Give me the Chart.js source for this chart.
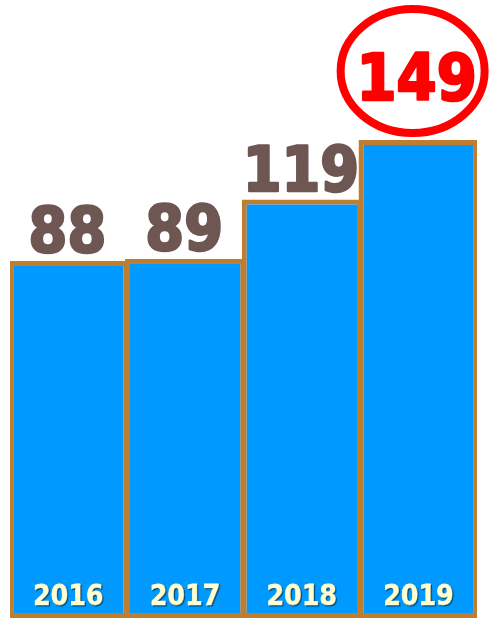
<!DOCTYPE html>
<html>
<head>
<meta charset="utf-8">
<script src="https://cdn.jsdelivr.net/npm/chart.js@4/dist/chart.umd.min.js"></script>
<style>
  html, body { margin: 0; padding: 0; background: #fff; }
  canvas { display: block; }
</style>
</head>
<body>
<canvas id="bars" width="492" height="619"></canvas>
<script>
var years = ['2016', '2017', '2018', '2019'];
var values = [88, 89, 119, 149];
var highlightIndex = 3;
var yMin = -92;
var yMax = 219.6;

var valueFont = 'bold 62px "DejaVu Sans Condensed", "DejaVu Sans", sans-serif';
var bigFont = 'bold 64px "DejaVu Sans Condensed", "DejaVu Sans", sans-serif';
var yearFont = 'bold 28px "DejaVu Sans Condensed", "DejaVu Sans", sans-serif';

// heavier text: fill plus a thin stroke in the same colour
function heavyText(ctx, txt, x, y, color, weight) {
    ctx.fillStyle = color;
    ctx.strokeStyle = color;
    ctx.lineWidth = weight;
    ctx.lineJoin = 'round';
    ctx.strokeText(txt, x, y);
    ctx.fillText(txt, x, y);
}

// draws the numbers above the bars, the years inside, and the red ring on the highlight
var labelPlugin = {
    id: 'labels',
    afterDatasetsDraw: function(chart) {
        var ctx = chart.ctx;
        var meta = chart.getDatasetMeta(0);
        ctx.save();
        try { ctx.fontStretch = 'condensed'; } catch (e) {}
        ctx.textAlign = 'center';
        ctx.textBaseline = 'alphabetic';

        meta.data.forEach(function(bar, i) {
            var x = bar.x;
            if (i === highlightIndex) {
                ctx.font = bigFont;
                heavyText(ctx, String(values[i]), x - 2, bar.y - 40, '#ff0000', 2.5);
                ctx.beginPath();
                ctx.ellipse(x - 6, bar.y - 69, 72, 62, 0, 0, Math.PI * 2);
                ctx.lineWidth = 8;
                ctx.strokeStyle = '#ff0000';
                ctx.stroke();
            } else {
                ctx.font = valueFont;
                heavyText(ctx, String(values[i]), x - 1, bar.y - 9, '#6e5652', 2.5);
            }

            // year inside the bar, near the bottom
            ctx.font = yearFont;
            ctx.shadowColor = 'rgba(0,0,0,0.45)';
            ctx.shadowOffsetX = 1;
            ctx.shadowOffsetY = 1;
            ctx.shadowBlur = 1;
            heavyText(ctx, years[i], x, 605, '#ffffd2', 0.8);
            ctx.shadowColor = 'transparent';
        });
        ctx.restore();
    }
};

new Chart(document.getElementById('bars'), {
    type: 'bar',
    data: {
        labels: years,
        datasets: [{
            data: values,
            base: yMin,
            backgroundColor: '#0099ff',
            borderColor: '#bf7e2f',
            borderWidth: 5,
            borderSkipped: false,
            categoryPercentage: 1,
            barPercentage: 1.03
        }]
    },
    options: {
        responsive: false,
        animation: false,
        layout: { padding: { left: 10, right: 15, top: 0, bottom: 1 } },
        plugins: {
            legend: { display: false },
            tooltip: { enabled: false }
        },
        scales: {
            x: { display: false },
            y: { display: false, min: yMin, max: yMax }
        }
    },
    plugins: [labelPlugin]
});
</script>
</body>
</html>
